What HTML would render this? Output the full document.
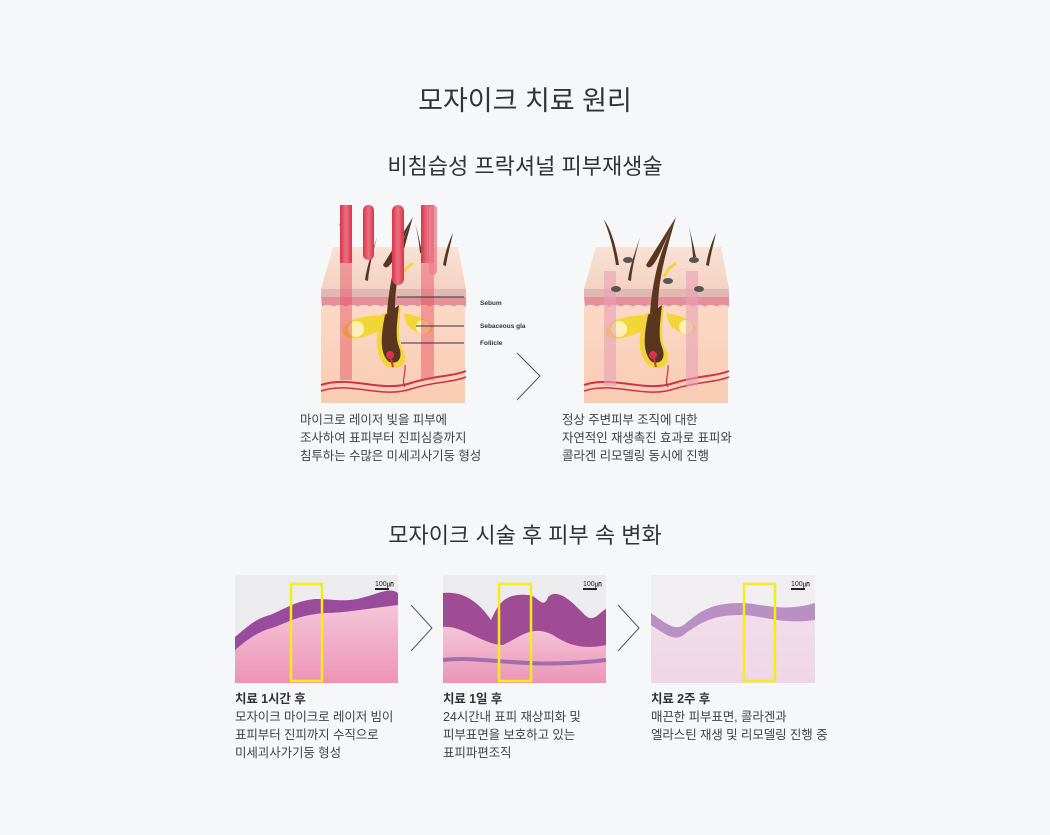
<!DOCTYPE html>
<html><head><meta charset="utf-8"><style>
html,body{margin:0;padding:0;}
body{width:1050px;height:835px;background:#f6f7f9;position:relative;overflow:hidden;font-family:"Liberation Sans","Noto Sans CJK KR",sans-serif;color:#333;}
.t{position:absolute;white-space:nowrap;}
.h1{left:0;width:1050px;text-align:center;top:79px;font-size:27px;color:#333;}
.h2{left:0;width:1050px;text-align:center;font-size:22px;color:#333;}
.p{font-size:12.5px;line-height:18px;color:#444;letter-spacing:-0.1px;}
.p b{font-weight:bold;color:#333;}
svg{position:absolute;}
</style></head><body>
<div class="t h1">모자이크 치료 원리</div>
<div class="t h2" style="top:149px">비침습성 프락셔널 피부재생술</div>

<svg width="1050" height="835" style="left:0;top:0">
<defs>
<linearGradient id="top" x1="0" y1="0" x2="0" y2="1"><stop offset="0" stop-color="#f8e2d6"/><stop offset="1" stop-color="#f3d2c2"/></linearGradient>
<linearGradient id="body" x1="0" y1="0" x2="0" y2="1"><stop offset="0" stop-color="#fbd9c6"/><stop offset="1" stop-color="#f9ccb3"/></linearGradient>
<linearGradient id="beam" x1="0" y1="0" x2="1" y2="0"><stop offset="0" stop-color="#d8344a"/><stop offset=".5" stop-color="#ec7080"/><stop offset="1" stop-color="#d8344a"/></linearGradient>
<linearGradient id="derm" x1="0" y1="0" x2="0" y2="1"><stop offset="0" stop-color="#f4c6d8"/><stop offset="1" stop-color="#ec94b6"/></linearGradient>
<linearGradient id="derm3" x1="0" y1="0" x2="0" y2="1"><stop offset="0" stop-color="#f2dde9"/><stop offset="1" stop-color="#efd6e6"/></linearGradient>
<g id="skin">
<polygon points="12,42 137,42 145,84 0,84" fill="url(#top)"/>
<rect x="0" y="84" width="145" height="8" fill="#dfb9b2"/>
<path d="M0,92 H145 V102 q-6,-4 -12,0 q-6,-4 -12,0 q-6,-4 -12,0 q-6,-4 -12,0 q-6,-4 -12,0 q-6,-4 -12,0 q-6,-4 -12,0 q-6,-4 -12,0 q-6,-4 -12,0 q-6,-4 -12,0 q-6,-4 -12,0 q-6,-4 -12,0 Z" fill="#e6909c"/>
<path d="M0,102 q6,-4 12,0 q6,-4 12,0 q6,-4 12,0 q6,-4 12,0 q6,-4 12,0 q6,-4 12,0 q6,-4 12,0 q6,-4 12,0 q6,-4 12,0 q6,-4 12,0 q6,-4 12,0 q6,-4 12,0 V198 H0 Z" fill="url(#body)"/>
<path d="M0,180 C30,170 60,188 90,178 C115,170 130,172 145,166" stroke="#d03248" stroke-width="2" fill="none"/>
<path d="M0,186 C30,176 60,194 90,184 C115,176 130,178 145,172" stroke="#d03248" stroke-width="1.5" fill="none"/>
<path d="M84,160 C85,170 80,176 84,182" stroke="#d03248" stroke-width="1.2" fill="none"/>
<path d="M70,110 C50,110 25,112 22,125 C22,138 40,135 60,125 Z" fill="#f2d638"/>
<circle cx="35" cy="124" r="8" fill="#fbf0b8"/>
<path d="M82,108 C95,110 110,115 112,123 C110,132 95,130 86,120 Z" fill="#f2d638"/>
<circle cx="102" cy="122" r="7" fill="#fbf0b8"/>
<path d="M60,110 C55,130 52,150 66,162 C80,166 88,158 82,145 C76,135 78,120 80,100 Z" fill="#f2d638"/>
<path d="M64,110 C60,130 58,148 68,157 C78,160 82,152 78,142 C74,132 76,118 78,100 Z" fill="#5a3520"/>
<path d="M62,60 C68,70 76,48 92,12 C80,40 70,60 66,108 L74,106 C74,80 78,60 92,12" fill="#5a3520"/>
<path d="M80,72 C84,62 90,60 92,58" stroke="#f2d638" stroke-width="3" fill="none"/>
<circle cx="69" cy="150" r="4" fill="#d8344a"/>
<path d="M69,150 L72,162" stroke="#d03248" stroke-width="2"/>
</g>
<g id="hairs">
<path d="M44,75 C46,60 52,45 56,32 C52,48 48,62 47,76 Z" fill="#5a3520"/>
<path d="M122,60 C124,48 128,36 132,28 C129,42 126,52 125,61 Z" fill="#5a3520"/>
</g>
</defs>

<g transform="translate(321,205)">
<use href="#skin"/>
<use href="#hairs"/>
<path d="M28,55 C26,40 22,25 18,18 C22,32 25,44 25,56 Z" fill="#5a3520"/>
<path d="M99,48 C98,36 96,26 94,18 C97,28 99,38 101,48 Z" fill="#5a3520"/>
<rect x="19" y="0" width="12" height="175" fill="#e64a5c" opacity=".45"/>
<rect x="100" y="0" width="13" height="175" fill="#e64a5c" opacity=".45"/>
<rect x="19" y="0" width="12" height="58" fill="url(#beam)"/>
<rect x="100" y="0" width="13" height="58" fill="url(#beam)"/>
<rect x="42" y="0" width="11" height="55" rx="5" fill="url(#beam)"/>
<rect x="71" y="0" width="12" height="80" rx="6" fill="url(#beam)"/>
<rect x="108" y="0" width="8" height="70" rx="4" fill="#f08090" opacity=".8"/>
<line x1="76" y1="92" x2="143" y2="92" stroke="#333" stroke-width="1"/>
<line x1="95" y1="121" x2="143" y2="121" stroke="#333" stroke-width="1"/>
<line x1="80" y1="138" x2="143" y2="138" stroke="#333" stroke-width="1"/>
</g>
<text x="480" y="305" font-family="Liberation Sans" font-size="6.5" font-weight="bold" fill="#333">Sebum</text>
<text x="480" y="328" font-family="Liberation Sans" font-size="6.5" font-weight="bold" fill="#333">Sebaceous gla</text>
<text x="480" y="345" font-family="Liberation Sans" font-size="6.5" font-weight="bold" fill="#333">Follicle</text>

<polyline points="517,353 540,376 517,400" fill="none" stroke="#555" stroke-width="1"/>

<g transform="translate(584,205)">
<use href="#skin"/>
<use href="#hairs"/>
<rect x="20" y="66" width="12" height="115" fill="#eaa0b4" opacity=".6"/>
<rect x="102" y="66" width="12" height="115" fill="#eaa0b4" opacity=".6"/>
<path d="M35,60 C32,40 26,22 20,15 C26,30 30,46 32,60 Z" fill="#5a3520"/>
<path d="M109,52 C108,38 106,26 104,18 C107,30 110,42 112,52 Z" fill="#5a3520"/>
<ellipse cx="44" cy="55" rx="5" ry="3" fill="#555"/>
<ellipse cx="110" cy="55" rx="5" ry="3" fill="#555"/>
<ellipse cx="32" cy="84" rx="5" ry="3" fill="#555"/>
<ellipse cx="84" cy="76" rx="5" ry="3" fill="#555"/>
<ellipse cx="115" cy="84" rx="5" ry="3" fill="#555"/>
</g>

<g transform="translate(235,575)">
<rect width="163" height="108" fill="#ecebed"/>
<path d="M0,62 C12,52 20,44 35,40 C50,34 60,26 80,24 C100,24 110,28 130,22 C145,18 155,12 163,18 V108 H0 Z" fill="#9a4c9c"/>
<path d="M0,75 C15,62 25,56 40,52 C55,46 65,40 90,38 C110,38 130,34 163,30 V108 H0 Z" fill="url(#derm)"/>
<rect x="140" y="13" width="14" height="2" fill="#222"/>
<text x="140" y="11" font-family="Liberation Sans" font-size="7" fill="#222">100㎛</text>
</g>
<g transform="translate(443,575)">
<rect width="163" height="108" fill="#ecebed"/>
<path d="M0,18 C20,16 35,26 48,45 C55,30 60,18 85,20 C95,20 100,36 105,22 C115,12 130,28 140,38 C150,50 155,38 163,34 V108 H0 Z" fill="#a04c94"/>
<path d="M0,52 C20,50 40,70 60,70 C80,60 90,50 110,60 C125,70 140,75 163,70 V108 H0 Z" fill="url(#derm)"/>
<path d="M0,85 C40,80 80,95 163,85" stroke="#6a4aa0" stroke-width="4" fill="none" opacity=".6"/>
<rect x="140" y="13" width="14" height="2" fill="#222"/>
<text x="140" y="11" font-family="Liberation Sans" font-size="7" fill="#222">100㎛</text>
</g>
<g transform="translate(651,575)">
<rect width="164" height="108" fill="#f1eef2"/>
<path d="M0,38 C15,48 25,58 35,48 C50,36 60,28 90,28 C110,28 130,38 164,28 V108 H0 Z" fill="#b890c4"/>
<path d="M0,50 C15,60 25,68 35,58 C50,48 60,40 90,40 C110,40 130,50 164,45 V108 H0 Z" fill="url(#derm3)"/>
<rect x="140" y="13" width="14" height="2" fill="#222"/>
<text x="140" y="11" font-family="Liberation Sans" font-size="7" fill="#222">100㎛</text>
</g>
<rect x="291" y="584" width="31" height="97" fill="none" stroke="#f5ec1a" stroke-width="2.5"/>
<rect x="499" y="584" width="32" height="97" fill="none" stroke="#f5ec1a" stroke-width="2.5"/>
<rect x="744" y="584" width="31" height="97" fill="none" stroke="#f5ec1a" stroke-width="2.5"/>
<polyline points="411,605 432,628 411,651" fill="none" stroke="#555" stroke-width="1"/>
<polyline points="618,605 639,628 618,651" fill="none" stroke="#555" stroke-width="1"/>
</svg>

<div class="t p" style="left:300px;top:411px">마이크로 레이저 빛을 피부에<br>조사하여 표피부터 진피심층까지<br>침투하는 수많은 미세괴사기둥 형성</div>
<div class="t p" style="left:562px;top:411px">정상 주변피부 조직에 대한<br>자연적인 재생촉진 효과로 표피와<br>콜라겐 리모델링 동시에 진행</div>

<div class="t h2" style="top:518px">모자이크 시술 후 피부 속 변화</div>

<div class="t p" style="left:235px;top:690px"><b>치료 1시간 후</b><br>모자이크 마이크로 레이저 빔이<br>표피부터 진피까지 수직으로<br>미세괴사가기둥 형성</div>
<div class="t p" style="left:443px;top:690px"><b>치료 1일 후</b><br>24시간내 표피 재상피화 및<br>피부표면을 보호하고 있는<br>표피파편조직</div>
<div class="t p" style="left:651px;top:690px"><b>치료 2주 후</b><br>매끈한 피부표면, 콜라겐과<br>엘라스틴 재생 및 리모델링 진행 중</div>
</body></html>
